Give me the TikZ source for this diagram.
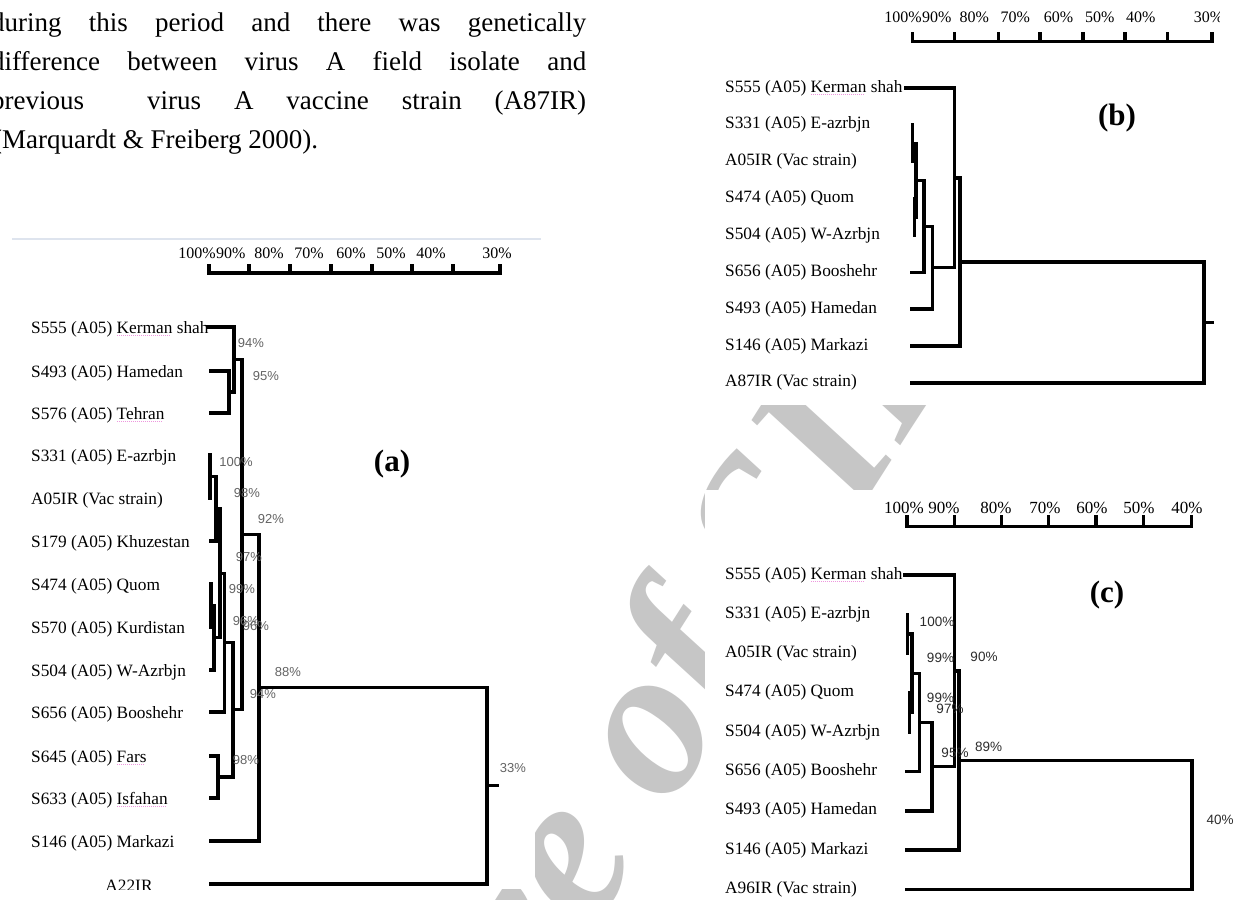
\documentclass[tikz,border=0pt]{standalone}
\usepackage{fontspec}
\setmainfont{Liberation Serif}
\newfontfamily\pctfont{Liberation Sans}
\definecolor{wmgray}{RGB}{198,198,198}
\definecolor{pcta}{RGB}{100,100,100}
\definecolor{pctc}{RGB}{45,45,45}
\definecolor{spellpink}{RGB}{238,150,222}
\definecolor{framecol}{RGB}{222,228,238}
\newcommand\spellmark[1]{\setbox0\hbox{#1}\rlap{\raisebox{-3bp}[0pt][0pt]{\textcolor{spellpink}{\hbox to\wd0{\leaders\hbox to 2bp{\hss\rule{0.9bp}{0.7bp}\hss}\hfill}}}}\box0\relax}
\begin{document}
\begin{tikzpicture}[x=1bp,y=-1bp,
  para/.style={anchor=base west, inner sep=0pt, font=\fontsize{27bp}{30bp}\selectfont},
  leaf/.style={anchor=base west, inner sep=0pt, font=\fontsize{17.3bp}{20bp}\selectfont},
  pctlaba/.style={inner sep=0pt, font=\pctfont\fontsize{13bp}{15bp}\selectfont, text=pcta},
  pctlabc/.style={inner sep=0pt, font=\pctfont\fontsize{13.5bp}{15bp}\selectfont, text=pctc},
  tickla/.style={inner sep=0pt, font=\fontsize{16bp}{18bp}\selectfont},
  ticklc/.style={inner sep=0pt, font=\fontsize{17bp}{19bp}\selectfont},
  panellab/.style={inner sep=0pt, font=\fontsize{31bp}{33bp}\selectfont\bfseries},
  wmark/.style={rotate=57.5, anchor=base west, inner sep=0pt, text=wmgray, font=\fontsize{213bp}{213bp}\selectfont\bfseries\itshape},
  bra/.style={line width=3.1bp, line cap=rect, line join=miter},
  brb/.style={line width=3.4bp, line cap=rect, line join=miter}
]
\useasboundingbox (0,0) rectangle (1236,900);
\fill[white] (0,0) rectangle (1236,900);

% watermark
\node[wmark] (wm) at (272,1433) {Archive of SID};
\fill[white] (12,239) rectangle (535,889);
\fill[white] (705,-2) rectangle (1219,405);
\fill[white] (705,490) rectangle (1238,902);

% paragraph
\node[para] (p1) at (-9,31) {\makebox[595bp][s]{during this period and there was genetically}};
\node[para] (p2) at (-9,70) {\makebox[595bp][s]{difference between virus A field isolate and}};
\node[para] (p3) at (-9,109) {\makebox[595bp][s]{previous\hspace{30bp} virus A vaccine strain (A87IR)}};
\node[para] (p4) at (-7,148) {(Marquardt \& Freiberg 2000).};

% ================= panel (a)
\begin{scope}
\clip (12,236) rectangle (545,889);
\draw[color=framecol, line width=1.2bp] (12,239) -- (541,239);
\draw[bra] (209,266) |- (500,273) -- (500,266);
\foreach \x in {249,290,331,372,412,453} \draw[bra] (\x,266) -- (\x,273);
\node[tickla, anchor=east] (at1) at (216,253) {100\%};
\node[tickla, anchor=west] (at2) at (216,253) {90\%};
\node[tickla] (at3) at (269,253) {80\%};
\node[tickla] (at4) at (309,253) {70\%};
\node[tickla] (at5) at (351,253) {60\%};
\node[tickla] (at6) at (391,253) {50\%};
\node[tickla] (at7) at (431,253) {40\%};
\node[tickla] (at8) at (497,253) {30\%};

\node[leaf] (la1) at (31,333) {S555 (A05) \spellmark{Kerman} shah};
\node[leaf] (la2) at (31,377) {S493 (A05) Hamedan};
\node[leaf] (la3) at (31,419) {S576 (A05) \spellmark{Tehran}};
\node[leaf] (la4) at (31,461) {S331 (A05) E-azrbjn};
\node[leaf] (la5) at (31,504) {A05IR (Vac strain)};
\node[leaf] (la6) at (31,547) {S179 (A05) Khuzestan};
\node[leaf] (la7) at (31,590) {S474 (A05) Quom};
\node[leaf] (la8) at (31,633) {S570 (A05) Kurdistan};
\node[leaf] (la9) at (31,676) {S504 (A05) W-Azrbjn};
\node[leaf] (la10) at (31,718) {S656 (A05) Booshehr};
\node[leaf] (la11) at (31,762) {S645 (A05) \spellmark{Fars}};
\node[leaf] (la12) at (31,804) {S633 (A05) \spellmark{Isfahan}};
\node[leaf] (la13) at (31,847) {S146 (A05) Markazi};
\node[leaf, anchor=base] (la14) at (129,891) {A22IR};

\coordinate (a1) at (208,327);
\coordinate (a2) at (211,371);
\coordinate (a3) at (211,413);
\coordinate (a4) at (210,455);
\coordinate (a5) at (210,498);
\coordinate (a6) at (211,541);
\coordinate (a7) at (211,584);
\coordinate (a8) at (211,627);
\coordinate (a9) at (211,670);
\coordinate (a10) at (211,712);
\coordinate (a11) at (211,756);
\coordinate (a12) at (211,798);
\coordinate (a13) at (211,841);
\coordinate (a14) at (211,884);
\coordinate (am1) at (229,392);
\coordinate (am2) at (234,359.5);
\coordinate (an1) at (210,476.5);
\coordinate (an2) at (216,508.75);
\coordinate (an3) at (211,605.5);
\coordinate (an4) at (214,637.75);
\coordinate (an5) at (220,573.25);
\coordinate (an6) at (224.5,642.6);
\coordinate (an7) at (218,777);
\coordinate (an8) at (233,709.8);
\coordinate (an9) at (242,534.7);
\coordinate (an10) at (259,687.8);
\coordinate (an11) at (487,785.9);
\coordinate (aroot) at (497,785.9);

\draw[bra] (a2) -| (am1) |- (a3);
\draw[bra] (a1) -| (am2) |- (am1);
\draw[bra] (a4) -| (an1) |- (a5);
\draw[bra] (an1) -| (an2) |- (a6);
\draw[bra] (a7) -| (an3) |- (a8);
\draw[bra] (an3) -| (an4) |- (a9);
\draw[bra] (an2) -| (an5) |- (an4);
\draw[bra] (an5) -| (an6) |- (a10);
\draw[bra] (a11) -| (an7) |- (a12);
\draw[bra] (an6) -| (an8) |- (an7);
\draw[bra] (am2) -| (an9) |- (an8);
\draw[bra] (an9) -| (an10) |- (a13);
\draw[bra] (an10) -| (an11) |- (a14);
\draw[bra] (an11) -- (aroot);

\node[pctlaba] (pa1) at (251,343) {94\%};
\node[pctlaba] (pa2) at (266,376) {95\%};
\node[pctlaba] (pa3) at (236,462) {100\%};
\node[pctlaba] (pa4) at (247,493) {98\%};
\node[pctlaba] (pa5) at (271,519) {92\%};
\node[pctlaba] (pa6) at (249,557) {97\%};
\node[pctlaba] (pa7) at (242,589) {99\%};
\node[pctlaba] (pa8) at (246,621) {96\%};
\node[pctlaba] (pa9) at (256,626) {96\%};
\node[pctlaba] (pa10) at (288,672) {88\%};
\node[pctlaba] (pa11) at (263,694) {94\%};
\node[pctlaba] (pa12) at (246,760) {98\%};
\node[pctlaba] (pa13) at (513,768) {33\%};
\node[panellab] (alab) at (392,464) {(a)};
\end{scope}

% ================= panel (b)
\begin{scope}
\clip (705,-2) rectangle (1219,405);
\draw[brb] (912.6,33.3) |- (1211.8,41.7) -- (1211.8,33.3);
\foreach \x in {954.7,998.5,1040,1083,1125,1167.7} \draw[brb] (\x,33.3) -- (\x,41.7);
\node[tickla, anchor=east] (bt1) at (922,17) {100\%};
\node[tickla, anchor=west] (bt2) at (922,17) {90\%};
\node[tickla] (bt3) at (974.3,17) {80\%};
\node[tickla] (bt4) at (1015.4,17) {70\%};
\node[tickla] (bt5) at (1058.6,17) {60\%};
\node[tickla] (bt6) at (1099.7,17) {50\%};
\node[tickla] (bt7) at (1140.8,17) {40\%};
\node[tickla] (bt8) at (1208.6,17) {30\%};

\node[leaf] (lb1) at (725,92) {S555 (A05) \spellmark{Kerman} shah};
\node[leaf] (lb2) at (725,128.9) {S331 (A05) E-azrbjn};
\node[leaf] (lb3) at (725,165.7) {A05IR (Vac strain)};
\node[leaf] (lb4) at (725,202.6) {S474 (A05) Quom};
\node[leaf] (lb5) at (725,239.4) {S504 (A05) W-Azrbjn};
\node[leaf] (lb6) at (725,276.3) {S656 (A05) Booshehr};
\node[leaf] (lb7) at (725,313.1) {S493 (A05) Hamedan};
\node[leaf] (lb8) at (725,350) {S146 (A05) Markazi};
\node[leaf] (lb9) at (725,386.8) {A87IR (Vac strain)};

\coordinate (b1) at (906,88);
\coordinate (b2) at (912.6,124.9);
\coordinate (b3) at (912.6,161.7);
\coordinate (b4) at (914.5,198.6);
\coordinate (b5) at (914.5,235.4);
\coordinate (b6) at (912,272.3);
\coordinate (b7) at (912,309.1);
\coordinate (b8) at (912,346);
\coordinate (b9) at (912,382.8);
\coordinate (bn1) at (912.6,143.3);
\coordinate (bn2) at (914.5,217);
\coordinate (bn3) at (916,180.2);
\coordinate (bn4) at (924,226.2);
\coordinate (bn5) at (932.5,267.7);
\coordinate (bn6) at (954.7,177.8);
\coordinate (bn7) at (960,261.9);
\coordinate (bn8) at (1204,322.4);
\coordinate (broot) at (1212,322.4);

\draw[brb] (b2) -| (bn1) |- (b3);
\draw[brb] (b4) -| (bn2) |- (b5);
\draw[brb] (bn1) -| (bn3) |- (bn2);
\draw[brb] (bn3) -| (bn4) |- (b6);
\draw[brb] (bn4) -| (bn5) |- (b7);
\draw[brb] (b1) -| (bn6) |- (bn5);
\draw[brb] (bn6) -| (bn7) |- (b8);
\draw[brb] (bn7) -| (bn8) |- (b9);
\draw[brb] (bn8) -- (broot);
\node[panellab] (blab) at (1117,118) {(b)};
\end{scope}

% ================= panel (c)
\begin{scope}
\clip (705,490) rectangle (1238,902);
\draw[brb] (906.8,517) |- (1191.3,526.7) -- (1191.3,517);
\foreach \x in {954.7,1001.5,1048.7,1096,1143.4} \draw[brb] (\x,517) -- (\x,526.7);
\node[ticklc] (ct1) at (904,508) {100\%};
\node[ticklc] (ct2) at (944,508) {90\%};
\node[ticklc] (ct3) at (996,508) {80\%};
\node[ticklc] (ct4) at (1045,508) {70\%};
\node[ticklc] (ct5) at (1092,508) {60\%};
\node[ticklc] (ct6) at (1139,508) {50\%};
\node[ticklc] (ct7) at (1187,508) {40\%};

\node[leaf] (lc1) at (725,579) {S555 (A05) \spellmark{Kerman} shah};
\node[leaf] (lc2) at (725,618.3) {S331 (A05) E-azrbjn};
\node[leaf] (lc3) at (725,657.6) {A05IR (Vac strain)};
\node[leaf] (lc4) at (725,696.9) {S474 (A05) Quom};
\node[leaf] (lc5) at (725,736.2) {S504 (A05) W-Azrbjn};
\node[leaf] (lc6) at (725,775.5) {S656 (A05) Booshehr};
\node[leaf] (lc7) at (725,814.8) {S493 (A05) Hamedan};
\node[leaf] (lc8) at (725,854.1) {S146 (A05) Markazi};
\node[leaf] (lc9) at (725,893.4) {A96IR (Vac strain)};

\coordinate (c1) at (905,575);
\coordinate (c2) at (907.5,614.3);
\coordinate (c3) at (907.5,653.6);
\coordinate (c4) at (909.5,692.9);
\coordinate (c5) at (909.5,732.2);
\coordinate (c6) at (907,771.5);
\coordinate (c7) at (907,810.8);
\coordinate (c8) at (907,850.1);
\coordinate (c9) at (907,889.4);
\coordinate (cn1) at (907.5,634);
\coordinate (cn2) at (909.5,712.5);
\coordinate (cn3) at (912,673.3);
\coordinate (cn4) at (919.5,722.4);
\coordinate (cn5) at (932,766.6);
\coordinate (cn6) at (954.7,670.8);
\coordinate (cn7) at (959,760.5);
\coordinate (cn8) at (1192,825);

\draw[brb] (c2) -| (cn1) |- (c3);
\draw[brb] (c4) -| (cn2) |- (c5);
\draw[brb] (cn1) -| (cn3) |- (cn2);
\draw[brb] (cn3) -| (cn4) |- (c6);
\draw[brb] (cn4) -| (cn5) |- (c7);
\draw[brb] (c1) -| (cn6) |- (cn5);
\draw[brb] (cn6) -| (cn7) |- (c8);
\draw[brb] (cn7) -| (cn8) |- (c9);

\node[pctlabc] (pc1) at (937,622) {100\%};
\node[pctlabc] (pc2) at (940.5,658) {99\%};
\node[pctlabc] (pc3) at (984,657) {90\%};
\node[pctlabc] (pc4) at (940.5,698) {99\%};
\node[pctlabc] (pc5) at (950,709) {97\%};
\node[pctlabc] (pc6) at (955,753) {95\%};
\node[pctlabc] (pc7) at (988.6,747) {89\%};
\node[pctlabc] (pc8) at (1220,820) {40\%};
\node[panellab] (clab) at (1107,595) {(c)};
\end{scope}
\end{tikzpicture}
\end{document}
